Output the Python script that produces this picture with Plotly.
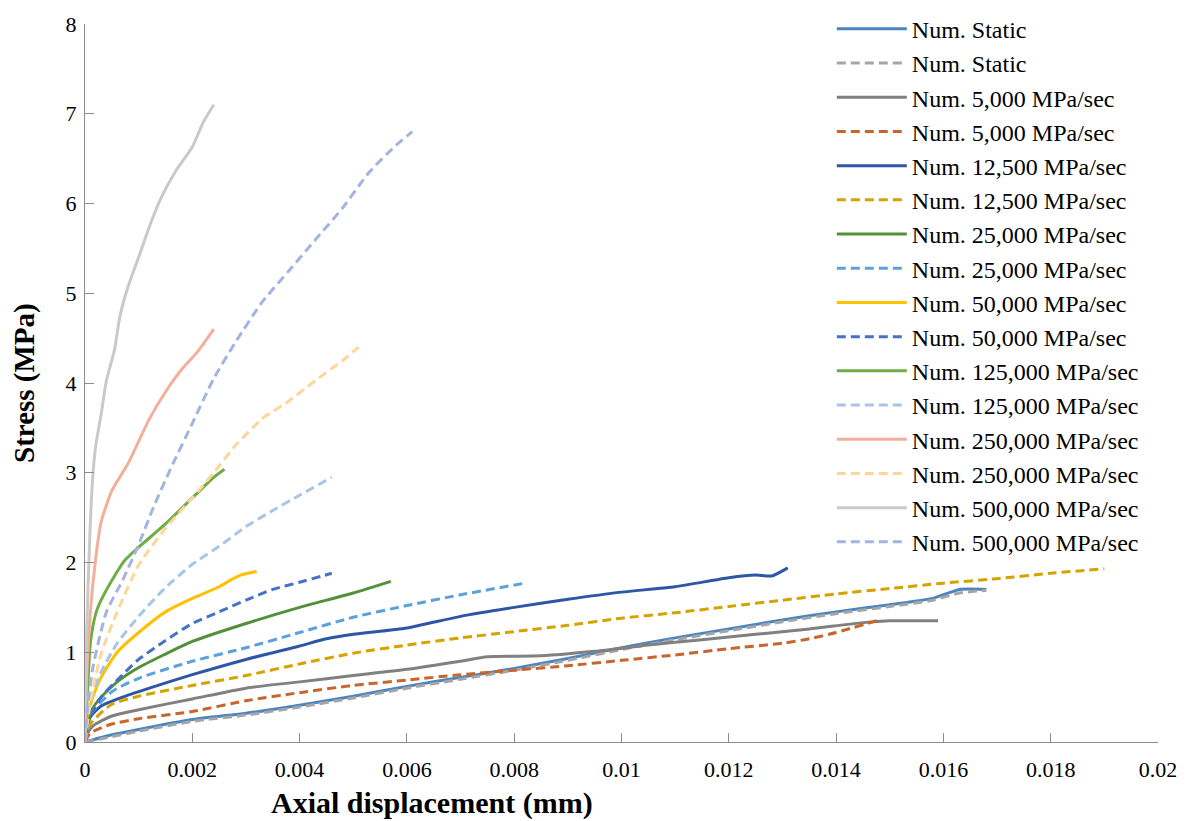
import plotly.graph_objects as go

# ---------------- data ----------------
static_x = [0, 0.0005, 0.001, 0.002, 0.003, 0.004, 0.005, 0.006, 0.007, 0.008, 0.009, 0.010, 0.011, 0.012, 0.013, 0.014, 0.015, 0.0158, 0.0163, 0.0168]
static_y = [0, 0.08, 0.14, 0.25, 0.32, 0.41, 0.51, 0.62, 0.72, 0.82, 0.93, 1.05, 1.16, 1.26, 1.36, 1.45, 1.53, 1.60, 1.70, 1.70]

static_d_x = [0, 0.0005, 0.001, 0.002, 0.003, 0.004, 0.005, 0.006, 0.007, 0.008, 0.009, 0.010, 0.011, 0.012, 0.013, 0.014, 0.015, 0.0158, 0.0163, 0.0168]
static_d_y = [0, 0.06, 0.12, 0.23, 0.30, 0.39, 0.49, 0.60, 0.70, 0.80, 0.91, 1.03, 1.14, 1.24, 1.34, 1.43, 1.51, 1.58, 1.66, 1.69]

r5000_x = [0, 0.00005, 0.00015, 0.0005, 0.001, 0.002, 0.003, 0.004, 0.005, 0.006, 0.007, 0.0075, 0.0085, 0.0095, 0.0105, 0.0115, 0.0125, 0.0135, 0.0145, 0.0150, 0.0159]
r5000_y = [0, 0.10, 0.18, 0.29, 0.36, 0.48, 0.60, 0.67, 0.74, 0.81, 0.90, 0.95, 0.96, 1.01, 1.08, 1.14, 1.20, 1.26, 1.33, 1.35, 1.35]

r5000_d_x = [0, 0.0001, 0.0005, 0.001, 0.002, 0.003, 0.004, 0.005, 0.006, 0.007, 0.008, 0.009, 0.010, 0.011, 0.012, 0.013, 0.0135, 0.014, 0.0148]
r5000_d_y = [0, 0.10, 0.20, 0.26, 0.34, 0.46, 0.55, 0.63, 0.69, 0.75, 0.80, 0.85, 0.91, 0.97, 1.04, 1.10, 1.15, 1.22, 1.36]

r12500_x = [0, 0.00003, 0.0001, 0.0003, 0.0007, 0.0012, 0.002, 0.003, 0.004, 0.0045, 0.005, 0.006, 0.007, 0.008, 0.009, 0.010, 0.011, 0.012, 0.0125, 0.0128, 0.0131]
r12500_y = [0, 0.15, 0.28, 0.40, 0.50, 0.60, 0.75, 0.92, 1.07, 1.15, 1.20, 1.27, 1.40, 1.50, 1.59, 1.67, 1.73, 1.83, 1.86, 1.85, 1.94]

r12500_d_x = [0, 0.0001, 0.0005, 0.001, 0.002, 0.003, 0.004, 0.005, 0.006, 0.007, 0.008, 0.009, 0.010, 0.011, 0.012, 0.013, 0.014, 0.015, 0.016, 0.017, 0.018, 0.019]
r12500_d_y = [0, 0.20, 0.42, 0.51, 0.63, 0.74, 0.87, 0.99, 1.08, 1.16, 1.23, 1.30, 1.38, 1.44, 1.51, 1.58, 1.65, 1.71, 1.77, 1.82, 1.88, 1.93]

r25000_x = [0, 0.00003, 0.00013, 0.0003, 0.0006, 0.001, 0.0015, 0.002, 0.003, 0.004, 0.005, 0.0057]
r25000_y = [0, 0.15, 0.36, 0.50, 0.67, 0.83, 0.98, 1.12, 1.32, 1.50, 1.66, 1.79]

r25000_d_x = [0, 0.0001, 0.0005, 0.001, 0.002, 0.003, 0.004, 0.005, 0.006, 0.007, 0.0082]
r25000_d_y = [0, 0.30, 0.56, 0.71, 0.90, 1.05, 1.22, 1.39, 1.52, 1.64, 1.77]

r50000_x = [0, 0.00003, 0.00013, 0.0003, 0.0006, 0.001, 0.0015, 0.002, 0.0025, 0.0027, 0.0029, 0.0032]
r50000_y = [0, 0.25, 0.47, 0.72, 1.00, 1.22, 1.45, 1.60, 1.73, 1.80, 1.86, 1.90]

r50000_d_x = [0, 0.00005, 0.0003, 0.0007, 0.001, 0.0015, 0.002, 0.0025, 0.003, 0.0035, 0.004, 0.0046]
r50000_d_y = [0, 0.21, 0.50, 0.75, 0.92, 1.13, 1.32, 1.45, 1.58, 1.70, 1.78, 1.88]

r125000_x = [0, 0.00005, 0.0001, 0.0002, 0.0003, 0.0005, 0.00075, 0.001, 0.0015, 0.002, 0.0024, 0.0026]
r125000_y = [0, 0.60, 1.10, 1.43, 1.58, 1.80, 2.03, 2.17, 2.43, 2.72, 2.95, 3.04]

r125000_d_x = [0, 0.0001, 0.0003, 0.0006, 0.001, 0.0015, 0.002, 0.0025, 0.003, 0.0035, 0.004, 0.0046]
r125000_d_y = [0, 0.45, 0.78, 1.10, 1.40, 1.72, 1.98, 2.18, 2.40, 2.58, 2.75, 2.95]

r250000_x = [0, 0.00003, 0.0001, 0.0002, 0.0003, 0.0005, 0.0008, 0.0012, 0.0015, 0.0018, 0.0021, 0.0024]
r250000_y = [0, 0.70, 1.45, 2.05, 2.45, 2.80, 3.10, 3.60, 3.90, 4.15, 4.35, 4.60]

r250000_d_x = [0, 0.0001, 0.0003, 0.0006, 0.001, 0.0015, 0.002, 0.0024, 0.0028, 0.0033, 0.0038, 0.0043, 0.0048, 0.0051]
r250000_d_y = [0, 0.45, 0.98, 1.45, 1.97, 2.38, 2.72, 3.00, 3.30, 3.60, 3.80, 4.03, 4.25, 4.40]

r500000_x = [0, 0.00003, 0.0001, 0.00015, 0.0002, 0.0003, 0.0004, 0.00055, 0.00065, 0.0008, 0.001, 0.0012, 0.0014, 0.0017, 0.002, 0.0022, 0.0024]
r500000_y = [0, 1.20, 2.45, 3.00, 3.30, 3.65, 4.03, 4.37, 4.74, 5.07, 5.40, 5.74, 6.04, 6.37, 6.63, 6.90, 7.10]

r500000_d_x = [0, 0.00005, 0.00015, 0.0004, 0.0007, 0.001, 0.0013, 0.0016, 0.002, 0.0024, 0.0028, 0.0033, 0.0038, 0.0043, 0.0048, 0.0053, 0.0058, 0.0061]
r500000_d_y = [0, 0.40, 0.84, 1.45, 1.80, 2.20, 2.65, 3.05, 3.55, 4.05, 4.45, 4.90, 5.25, 5.60, 5.95, 6.35, 6.65, 6.80]

series_names = ["Num. Static", "Num. Static",
                "Num. 5,000 MPa/sec", "Num. 5,000 MPa/sec",
                "Num. 12,500 MPa/sec", "Num. 12,500 MPa/sec",
                "Num. 25,000 MPa/sec", "Num. 25,000 MPa/sec",
                "Num. 50,000 MPa/sec", "Num. 50,000 MPa/sec",
                "Num. 125,000 MPa/sec", "Num. 125,000 MPa/sec",
                "Num. 250,000 MPa/sec", "Num. 250,000 MPa/sec",
                "Num. 500,000 MPa/sec", "Num. 500,000 MPa/sec"]

series_data = [(static_x, static_y), (static_d_x, static_d_y),
               (r5000_x, r5000_y), (r5000_d_x, r5000_d_y),
               (r12500_x, r12500_y), (r12500_d_x, r12500_d_y),
               (r25000_x, r25000_y), (r25000_d_x, r25000_d_y),
               (r50000_x, r50000_y), (r50000_d_x, r50000_d_y),
               (r125000_x, r125000_y), (r125000_d_x, r125000_d_y),
               (r250000_x, r250000_y), (r250000_d_x, r250000_d_y),
               (r500000_x, r500000_y), (r500000_d_x, r500000_d_y)]

colors = ["#4D84C0", "#A5A5A5",
          "#808080", "#C8652C",
          "#2F56A6", "#D6A200",
          "#53903A", "#5BA1DE",
          "#FFC000", "#4472C4",
          "#70AD47", "#A7C5E8",
          "#F2B09A", "#FFD699",
          "#C9C9C9", "#A3B4E0"]

x_ticks = [0, 0.002, 0.004, 0.006, 0.008, 0.01, 0.012, 0.014, 0.016, 0.018, 0.02]
x_tick_labels = ["0", "0.002", "0.004", "0.006", "0.008", "0.01", "0.012", "0.014", "0.016", "0.018", "0.02"]
y_ticks = [0, 1, 2, 3, 4, 5, 6, 7, 8]

# ---------------- figure ----------------
# The page body adds an 8px offset, so the figure is 8px smaller and margins are shifted.
SERIF = "Liberation Serif, Times New Roman, serif"
fig = go.Figure()
for i, (name, (xs, ys), col) in enumerate(zip(series_names, series_data, colors)):
    dashed = (i % 2 == 1)
    fig.add_trace(go.Scatter(
        x=xs, y=ys, mode="lines", name=name,
        legendgroup="g%d" % i,
        line=dict(color=col, width=3, dash="9px,5px" if dashed else "solid",
                  shape="spline", smoothing=0.6),
    ))

axis_col = "#8C8C8C"
fig.update_layout(
    width=1186, height=813,
    paper_bgcolor="white", plot_bgcolor="white",
    margin=dict(l=77, r=36, t=16, b=79, autoexpand=False),
    font=dict(family=SERIF, color="black", size=21),
    showlegend=True,
    legend=dict(
        x=0.696, y=1.024, xanchor="left", yanchor="top",
        bgcolor="rgba(0,0,0,0)", borderwidth=0,
        font=dict(family=SERIF, size=24, color="black"),
        itemwidth=70, tracegroupgap=0, maxheight=813,
    ),
    xaxis=dict(
        range=[0, 0.02], tickmode="array", tickvals=x_ticks, ticktext=x_tick_labels,
        showgrid=False, zeroline=False, showline=True, linecolor=axis_col, linewidth=1,
        ticks="inside", ticklen=9, tickcolor=axis_col, tickwidth=1,
        tickfont=dict(family=SERIF, size=22, color="black"),
        ticklabelstandoff=8, automargin=False,
    ),
    yaxis=dict(
        range=[0, 8], tickmode="array", tickvals=y_ticks,
        showgrid=False, zeroline=False, showline=True, linecolor=axis_col, linewidth=1,
        ticks="inside", ticklen=9, tickcolor=axis_col, tickwidth=1,
        tickfont=dict(family=SERIF, size=22, color="black"),
        ticklabelstandoff=3, automargin=False,
    ),
    annotations=[
        dict(text="<b>Axial displacement (mm)</b>", x=0.323, y=0, xref="paper", yref="paper",
             xanchor="center", yanchor="middle", yshift=-61, showarrow=False, borderpad=0,
             font=dict(family=SERIF, size=30, color="black")),
        dict(text="<b>Stress (MPa)</b>", x=0, y=0.5, xref="paper", yref="paper",
             xanchor="center", yanchor="middle", xshift=-61, textangle=-90, showarrow=False,
             borderpad=0, font=dict(family=SERIF, size=29, color="black")),
    ],
)

fig.write_html("out.html")
